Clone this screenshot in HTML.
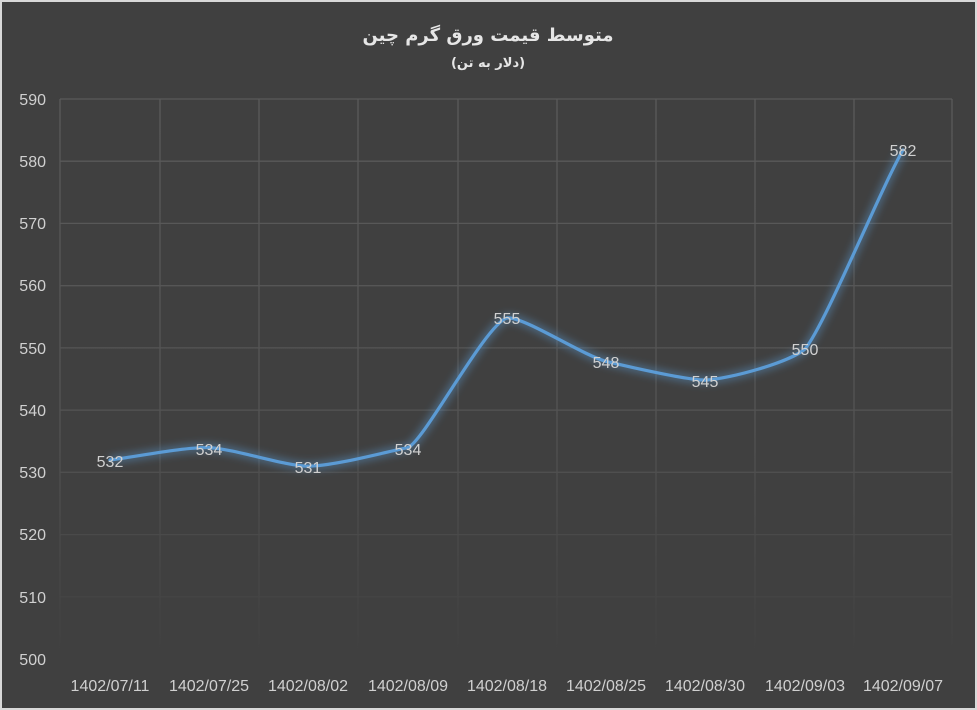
<!DOCTYPE html>
<html><head><meta charset="utf-8"><style>
html,body{margin:0;padding:0;background:#d9d9d9;}
.w{width:977px;height:710px;position:relative;overflow:hidden;}
svg{position:absolute;left:0;top:0;}
</style></head><body><div class="w">
<svg width="977" height="710" xmlns="http://www.w3.org/2000/svg" font-family="Liberation Sans, DejaVu Sans, sans-serif">
<defs>
<linearGradient id="g" gradientUnits="userSpaceOnUse" x1="0" y1="99" x2="0" y2="660">
<stop offset="0" stop-color="#5a5a5a"/><stop offset="0.55" stop-color="#545454"/><stop offset="1" stop-color="#404040"/>
</linearGradient>
<filter id="glow" x="-10%" y="-10%" width="120%" height="120%"><feGaussianBlur stdDeviation="4"/></filter>
</defs>
<rect x="2" y="2" width="973" height="706" fill="#404040"/>
<g stroke="url(#g)" stroke-width="1.3" fill="none">
<path d="M60 99H952M60 161.2H952M60 223.4H952M60 285.7H952M60 347.9H952M60 410.1H952M60 472.3H952M60 534.6H952M60 596.8H952"/>
<path d="M60 99V659M160 99V659M259 99V659M358 99V659M458 99V659M557 99V659M656 99V659M755 99V659M854 99V659M952 99V659"/>
</g>
<g fill="#d0d0d0" font-size="16" text-anchor="end">
<text x="46" y="105">590</text><text x="46" y="167">580</text><text x="46" y="229">570</text><text x="46" y="291">560</text><text x="46" y="354">550</text><text x="46" y="416">540</text><text x="46" y="478">530</text><text x="46" y="540">520</text><text x="46" y="603">510</text><text x="46" y="665">500</text>
</g>
<g fill="#d0d0d0" font-size="16" text-anchor="middle">
<text x="110" y="691">1402/07/11</text><text x="209" y="691">1402/07/25</text><text x="308" y="691">1402/08/02</text><text x="408" y="691">1402/08/09</text><text x="507" y="691">1402/08/18</text><text x="606" y="691">1402/08/25</text><text x="705" y="691">1402/08/30</text><text x="805" y="691">1402/09/03</text><text x="903" y="691">1402/09/07</text>
</g>
<path d="M110 460 C140 456,185 447,209 447.6 C235 449,285 466,308 466.2 C335 466,385 452,408 447.6 C425 440,485 325,507 317.9 C525 317,580 354,606 361.4 C630 367,685 380,705 380.1 C730 379,790 362,805 349 C825 325,880 190,903 150" fill="none" stroke="#5b9bd5" stroke-width="8" stroke-opacity="0.45" filter="url(#glow)"/>
<path d="M110 460 C140 456,185 447,209 447.6 C235 449,285 466,308 466.2 C335 466,385 452,408 447.6 C425 440,485 325,507 317.9 C525 317,580 354,606 361.4 C630 367,685 380,705 380.1 C730 379,790 362,805 349 C825 325,880 190,903 150" fill="none" stroke="#5b9bd5" stroke-width="3.2" stroke-linecap="round"/>
<g fill="#d0d0d0" font-size="16" text-anchor="middle">
<text x="110" y="467">532</text><text x="209" y="455">534</text><text x="308" y="473">531</text><text x="408" y="455">534</text><text x="507" y="324">555</text><text x="606" y="368">548</text><text x="705" y="387">545</text><text x="805" y="355">550</text><text x="903" y="156">582</text>
</g>
<text x="488" y="41" fill="#e6e6e6" font-size="18" font-weight="bold" text-anchor="middle" font-family="DejaVu Sans, sans-serif" direction="rtl">متوسط قیمت ورق گرم چین</text>
<text x="488" y="67" fill="#e6e6e6" font-size="13" font-weight="bold" text-anchor="middle" font-family="DejaVu Sans, sans-serif" direction="rtl">(دلار به تن)</text>
</svg></div></body></html>
